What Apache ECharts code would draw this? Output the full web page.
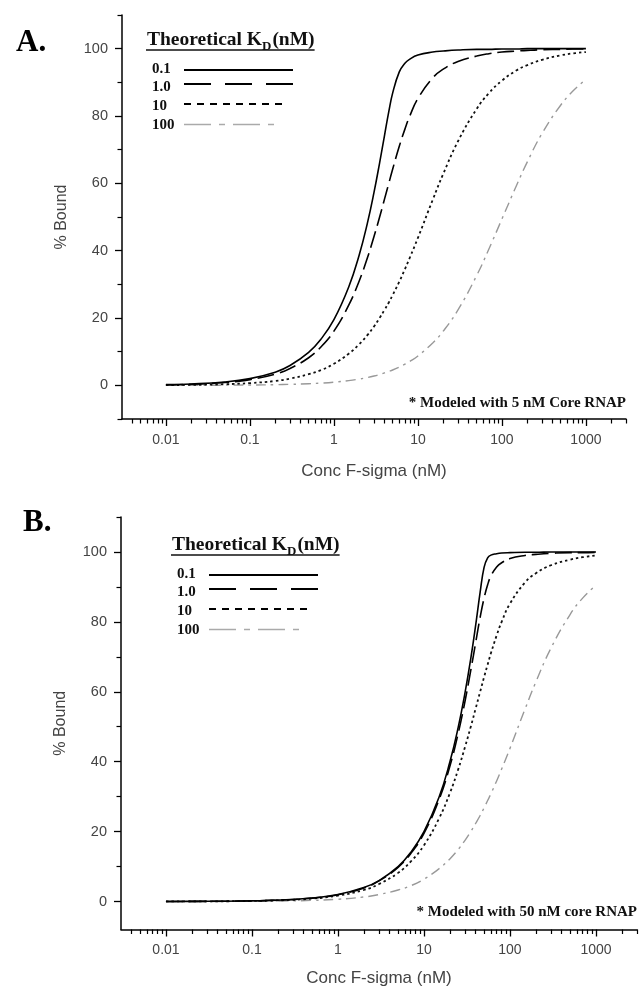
<!DOCTYPE html>
<html><head><meta charset="utf-8">
<script src="https://cdn.jsdelivr.net/npm/echarts@6/dist/echarts.min.js"></script>
<style>html,body{margin:0;padding:0;background:#fff}#c{width:641px;height:996px}</style>
</head><body><div id="c"></div>
<script>
// ---------- data ----------
const kdLabels = ['0.1', '1.0', '10', '100'];

const concA = [0.01,0.02,0.05,0.1,0.2,0.3,0.5,0.7,1,1.5,2,2.5,3,3.5,4,4.5,5,6,7,8,10,15,20,30,50,70,100,150,200,300,500,700,1000];
const boundA_kd01 = [0.2,0.4,1.0,2.0,3.9,5.9,9.8,13.7,19.5,29.2,38.7,48.1,57.3,66.1,74.2,81.3,86.8,93.1,95.7,96.9,98.1,99.0,99.3,99.6,99.8,99.8,99.9,99.9,100,100,100,100,100];
const boundA_kd1 = [0.17,0.33,0.83,1.7,3.3,5.0,8.2,11.4,16.1,23.8,31.0,37.8,44.2,50.0,55.3,60.0,64.2,71.0,76.1,80.0,85.2,91.3,93.9,96.2,97.8,98.5,99.0,99.3,99.5,99.7,99.8,99.9,99.9];
const boundA_kd10 = [0.07,0.13,0.33,0.66,1.3,2.0,3.3,4.5,6.4,9.4,12.2,14.9,17.5,20.0,22.4,24.6,26.8,30.8,34.5,37.9,43.8,55.1,62.8,72.5,82.1,86.8,90.5,93.6,95.1,96.7,98.0,98.6,99.0];
const boundA_kd100 = [0.01,0.02,0.05,0.1,0.19,0.29,0.47,0.66,0.94,1.41,1.87,2.33,2.78,3.23,3.70,4.15,4.55,5.42,6.27,7.10,8.73,12.6,16.1,22.4,32.6,40.5,49.4,59.5,66.3,74.8,83.2,87.4,90.9];

const concB = [0.01,0.02,0.05,0.1,0.2,0.5,1,2,3,5,7,10,15,20,25,30,35,40,45,50,55,60,70,80,100,150,200,300,500,700,1000];
const boundB_kd01 = [0.02,0.04,0.1,0.2,0.4,1.0,2.0,4.0,6.0,10.0,14.0,20.0,29.9,39.9,49.8,59.7,69.5,79.2,88.5,95.6,98.3,99.1,99.5,99.7,99.8,99.9,99.9,100,100,100,100];
const boundB_kd1 = [0.02,0.04,0.1,0.2,0.39,0.98,1.96,3.9,5.9,9.8,13.7,19.5,29.2,38.7,48.1,57.3,66.1,74.2,81.3,86.8,90.6,93.1,95.7,96.9,98.1,99.0,99.3,99.6,99.8,99.8,99.9];
const boundB_kd10 = [0.02,0.03,0.08,0.17,0.33,0.83,1.7,3.3,5.0,8.2,11.4,16.1,23.8,31.0,37.8,44.2,50.0,55.3,60.0,64.2,67.8,71.0,76.1,80.0,85.2,91.3,93.9,96.2,97.8,98.5,99.0];
const boundB_kd100 = [0.01,0.01,0.03,0.07,0.13,0.33,0.66,1.3,2.0,3.3,4.5,6.4,9.4,12.2,14.9,17.5,20.0,22.4,24.6,26.8,28.9,30.8,34.5,37.9,43.8,55.1,62.8,72.5,82.1,86.8,90.5];

const xTickValues = [0.01, 0.1, 1, 10, 100, 1000];
const xTickLabels = ['0.01', '0.1', '1', '10', '100', '1000'];
const yTickValues = [0, 20, 40, 60, 80, 100];
const yTickLabels = ['0', '20', '40', '60', '80', '100'];
const yMinorValues = [-10, 10, 30, 50, 70, 90, 110];
const xMinorMults = [2, 3, 4, 5, 6, 7, 8, 9];
const notes = ['* Modeled with 5 nM Core RNAP', '* Modeled with 50 nM core RNAP'];
const panelLetters = ['A.', 'B.'];

// ---------- styling / layout ----------
const SERIF = '"Liberation Serif", "Times New Roman", serif';
const SANS = '"Liberation Sans", Arial, sans-serif';
const X_MIN = 0.003, X_MAX = 3000, Y_MAX = 110;

const xMinorValues = [];
[0.001].concat(xTickValues).forEach(d => xMinorMults.forEach(m => {
  const v = +(m * d).toPrecision(6);
  if (v > X_MIN && v <= X_MAX) xMinorValues.push(v);
}));

const lineStyles = [
  {color: '#000', width: 1.6, type: 'solid'},
  {color: '#000', width: 1.6, type: [17, 6]},
  {color: '#111', width: 1.8, type: [2.5, 3]},
  {color: '#999', width: 1.4, type: [10, 5, 2.5, 5]}
];
const legendDash = [null, [27, 14], [7, 6], [27, 8, 6, 8]];
const legendLen = [109, 109, 98, 90];
const legendColor = ['#000', '#000', '#000', '#aaa'];

const panels = [
  {grid: {left: 122, top: 15, width: 504, height: 404}, yMin: -10, nameGap: 44, conc: concA,
   vals: [boundA_kd01, boundA_kd1, boundA_kd10, boundA_kd100],
   legend: {x: 147, base: 47}, letter: {x: 16, y: 42.5}, note: {x: 626, y: 403}},
  {grid: {left: 121, top: 517, width: 516, height: 412.5}, yMin: -8, nameGap: 40, conc: concB,
   vals: [boundB_kd01, boundB_kd1, boundB_kd10, boundB_kd100],
   legend: {x: 172, base: 552}, letter: {x: 23, y: 523}, note: {x: 637, y: 912}}
];

const fmt = (vals, labels) => v => {
  const i = vals.findIndex(t => Math.abs(t - v) <= Math.abs(t) * 1e-6 + 1e-9);
  return i >= 0 ? labels[i] : '';
};

const grids = [], xAxes = [], yAxes = [], series = [], graphics = [];
const mctx = document.createElement('canvas').getContext('2d');
const tw = (t, f) => { mctx.font = f; return mctx.measureText(t).width; };

panels.forEach((p, pi) => {
  const gi = pi * 2;
  grids.push(Object.assign({}, p.grid), Object.assign({}, p.grid));
  xAxes.push({
    type: 'log', logBase: 10, gridIndex: gi, min: X_MIN, max: X_MAX, position: 'bottom',
    axisLine: {show: true, onZero: false, lineStyle: {color: '#000', width: 1.5}},
    axisTick: {show: true, customValues: xTickValues, length: 7, lineStyle: {color: '#000', width: 1.3}},
    axisLabel: {show: true, customValues: xTickValues, formatter: fmt(xTickValues, xTickLabels),
      color: '#444', fontSize: 14, fontFamily: SANS, margin: 14},
    splitLine: {show: false}, minorTick: {show: false},
    name: 'Conc F-sigma (nM)', nameLocation: 'middle', nameGap: p.nameGap,
    nameTextStyle: {color: '#444', fontSize: 17, fontFamily: SANS}
  }, {
    type: 'log', logBase: 10, gridIndex: gi + 1, min: X_MIN, max: X_MAX, position: 'bottom',
    axisLine: {show: false, onZero: false},
    axisTick: {show: true, customValues: xMinorValues, length: 4.5, lineStyle: {color: '#000', width: 1.2}},
    axisLabel: {show: false}, splitLine: {show: false}
  });
  yAxes.push({
    type: 'value', gridIndex: gi, min: p.yMin, max: Y_MAX, position: 'left',
    axisLine: {show: true, onZero: false, lineStyle: {color: '#000', width: 1.5}},
    axisTick: {show: true, customValues: yTickValues, length: 7, lineStyle: {color: '#000', width: 1.3}},
    axisLabel: {show: true, customValues: yTickValues, formatter: fmt(yTickValues, yTickLabels),
      color: '#444', fontSize: 14.5, fontFamily: SANS, margin: 14},
    splitLine: {show: false},
    name: '% Bound', nameLocation: 'middle', nameGap: 52, nameRotate: 90,
    nameTextStyle: {color: '#444', fontSize: 16, fontFamily: SANS}
  }, {
    type: 'value', gridIndex: gi + 1, min: p.yMin, max: Y_MAX, position: 'left',
    axisLine: {show: false, onZero: false},
    axisTick: {show: true, customValues: yMinorValues, length: 4.5, lineStyle: {color: '#000', width: 1.2}},
    axisLabel: {show: false}, splitLine: {show: false}
  });
  p.vals.forEach((arr, si) => {
    series.push({
      type: 'line', xAxisIndex: gi, yAxisIndex: gi, name: kdLabels[si],
      data: p.conc.map((c, i) => [c, arr[i]]),
      showSymbol: false, symbol: 'none', smooth: 0.45,
      lineStyle: lineStyles[si], silent: true, z: 10 - si
    });
  });

  // legend (drawn as graphics)
  const L = p.legend;
  const FT = 19.5, FS = 13;
  const fT = 'bold ' + FT + 'px ' + SERIF, fS = 'bold ' + FS + 'px ' + SERIF;
  const w1 = tw('Theoretical K', fT), wD = tw('D', fS), w3 = tw('(nM)', fT);
  const midOff = 0.34 * FT;
  graphics.push({type: 'text', style: {text: 'Theoretical K', x: L.x, y: L.base - midOff, font: fT, fill: '#111', textVerticalAlign: 'middle', verticalAlign: 'middle'}});
  graphics.push({type: 'text', style: {text: 'D', x: L.x + w1, y: L.base + 4.5 - 0.34 * FS, font: fS, fill: '#111', textVerticalAlign: 'middle', verticalAlign: 'middle'}});
  graphics.push({type: 'text', style: {text: '(nM)', x: L.x + w1 + wD + 1, y: L.base - midOff, font: fT, fill: '#111', textVerticalAlign: 'middle', verticalAlign: 'middle'}});
  graphics.push({type: 'line', shape: {x1: L.x - 1, y1: L.base + 3, x2: L.x + w1 + wD + 1 + w3, y2: L.base + 3}, style: {stroke: '#111', lineWidth: 1.6}});
  const lineDy = [23, 37, 57, 77.5], labDy = [22, 40, 59, 78];
  kdLabels.forEach((k, i) => {
    graphics.push({type: 'text', style: {text: k, x: L.x + 5, y: L.base + labDy[i], font: 'bold 15px ' + SERIF, fill: '#111', textVerticalAlign: 'middle', verticalAlign: 'middle'}});
    const st = {stroke: legendColor[i], lineWidth: i === 3 ? 1.6 : 2};
    if (legendDash[i]) st.lineDash = legendDash[i];
    graphics.push({type: 'line', shape: {x1: L.x + 37, y1: L.base + lineDy[i], x2: L.x + 37 + legendLen[i], y2: L.base + lineDy[i]}, style: st});
  });
  graphics.push({type: 'text', style: {text: panelLetters[pi], x: p.letter.x, y: p.letter.y, font: 'bold 31px ' + SERIF, fill: '#000', textVerticalAlign: 'middle', verticalAlign: 'middle'}});
  graphics.push({type: 'text', style: {text: notes[pi], x: p.note.x, y: p.note.y, font: 'bold 15px ' + SERIF, fill: '#111', textAlign: 'right', align: 'right', textVerticalAlign: 'middle', verticalAlign: 'middle'}});
});

const chart = echarts.init(document.getElementById('c'), null, {renderer: 'canvas', width: 641, height: 996});
chart.setOption({
  animation: false,
  backgroundColor: '#fff',
  grid: grids, xAxis: xAxes, yAxis: yAxes, series: series,
  graphic: graphics
});
</script>
</body></html>
